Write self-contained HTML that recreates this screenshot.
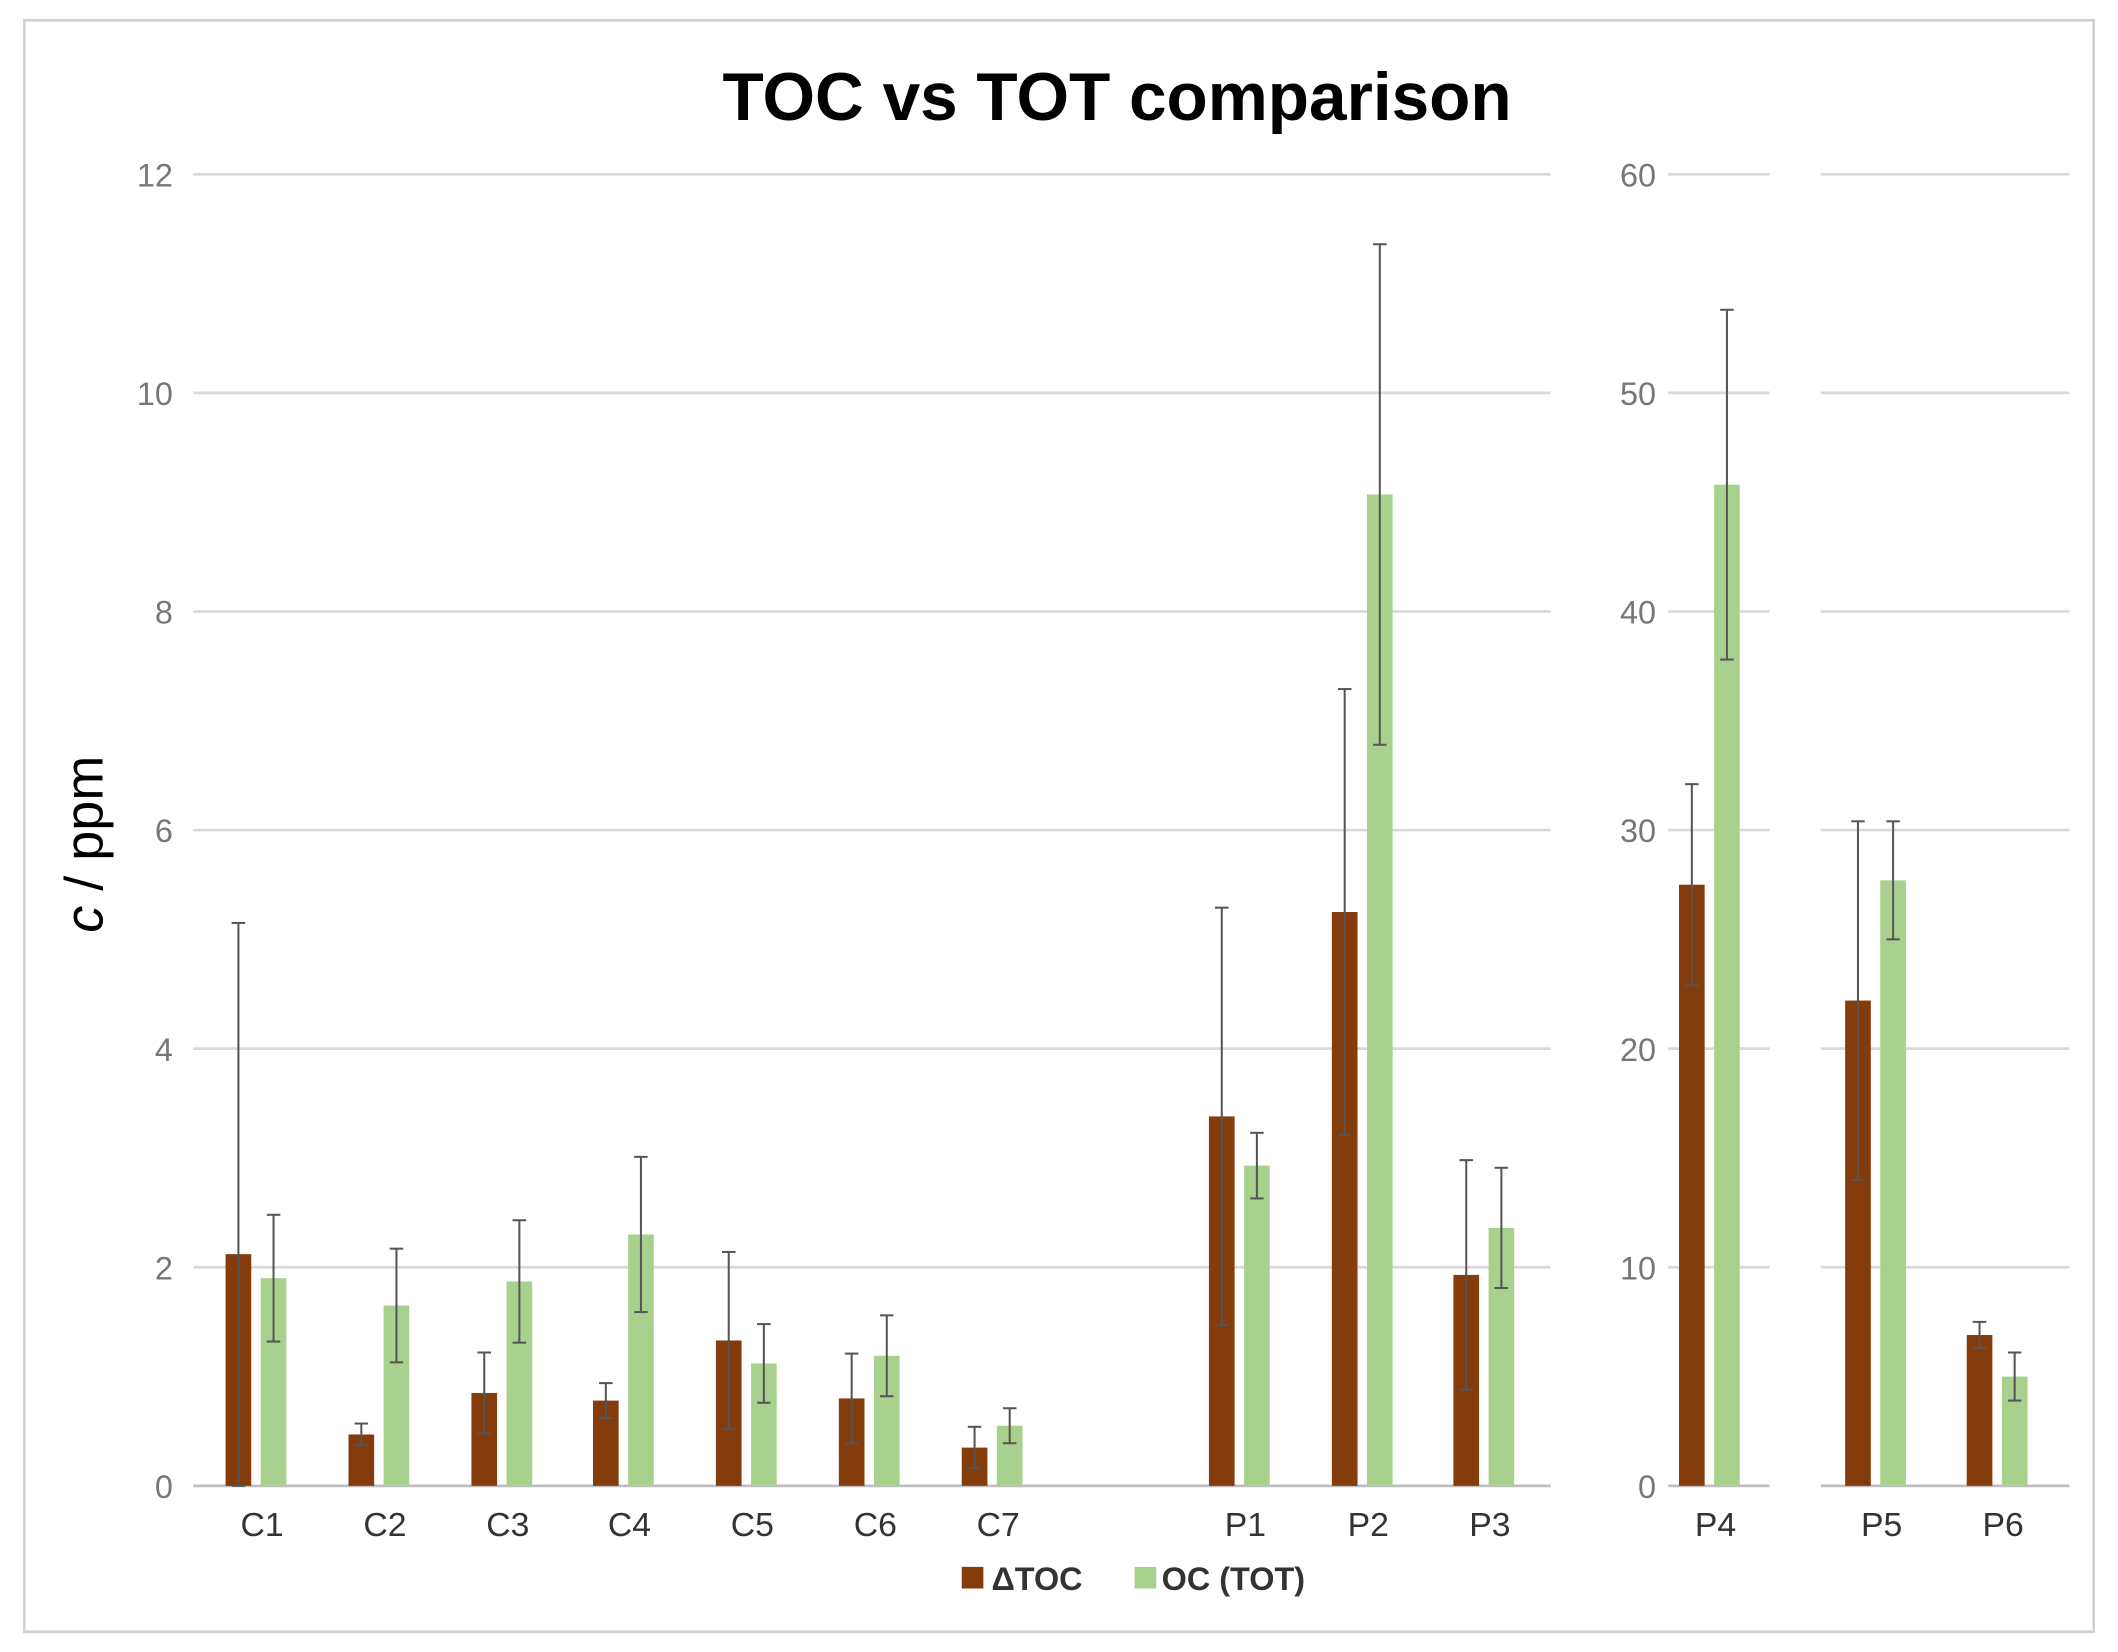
<!DOCTYPE html>
<html><head><meta charset="utf-8">
<style>
html,body{margin:0;padding:0;background:#fff;}
svg{display:block;font-family:"Liberation Sans",sans-serif;}
</style></head>
<body>
<svg id="chart" width="2118" height="1652" viewBox="0 0 1568 1223" xmlns="http://www.w3.org/2000/svg">
<rect x="18" y="15" width="1532" height="1193" fill="#fff" stroke="#d0d0d0" stroke-width="2"/>
<text x="827" y="89" text-anchor="middle" font-size="50" font-weight="bold" fill="#000">TOC vs TOT comparison</text>
<text transform="translate(76,625) rotate(-90)" text-anchor="middle" font-size="40" fill="#000"><tspan font-style="italic">c</tspan> / ppm</text>
<g id="grid"></g>
<g id="bars"></g>
<g id="labels"></g>
<g>
<rect x="712" y="1160" width="16" height="16" fill="#843C0C"/>
<text x="734" y="1177" font-size="24" font-weight="bold" fill="#333">ΔTOC</text>
<rect x="840" y="1160" width="16" height="16" fill="#A9D18E"/>
<text x="860" y="1177" font-size="24" font-weight="bold" fill="#333">OC (TOT)</text>
</g>
</svg>
<script>
const categories = ["C1","C2","C3","C4","C5","C6","C7","P1","P2","P3","P4","P5","P6"];
const dtocValues = [2.12,0.47,0.85,0.78,1.33,0.80,0.35,3.38,5.25,1.93,27.5,22.2,6.9];
const dtocErrors = [3.03,0.10,0.37,0.16,0.81,0.41,0.19,1.91,2.04,1.05,4.6,8.2,0.6];
const ocValues = [1.90,1.65,1.87,2.30,1.12,1.19,0.55,2.93,9.07,2.36,45.8,27.7,5.0];
const ocErrors = [0.58,0.52,0.56,0.71,0.36,0.37,0.16,0.30,2.29,0.55,8.0,2.7,1.1];
const leftTicks = [0,2,4,6,8,10,12];
const rightTicks = [0,10,20,30,40,50,60];
const centers = [194,285,376,466,557,648,739,922,1013,1103,1270,1393,1483];
const NS="http://www.w3.org/2000/svg";
const y0=1100, yTop=129;
function yLeft(v){return y0-(v/12)*(y0-yTop);}
function yRight(v){return y0-(v/60)*(y0-yTop);}
function mk(tag,attrs,parent){const e=document.createElementNS(NS,tag);for(const k in attrs)e.setAttribute(k,attrs[k]);parent.appendChild(e);return e;}
const grid=document.getElementById('grid'), bars=document.getElementById('bars'), labels=document.getElementById('labels');
const segs=[[143,1148],[1235,1310],[1348,1532]];
leftTicks.forEach(t=>{
  const g=mk('line',{x1:143,x2:1148,y1:yLeft(t),y2:yLeft(t),stroke:t===0?'#bfbfbf':'#d9d9d9','stroke-width':2},grid);
  
  
  const tx=mk('text',{x:128,y:yLeft(t)+9,'text-anchor':'end','font-size':24,fill:'#777'},labels);
  tx.textContent=t;
  
  
});
rightTicks.forEach(t=>{
  [segs[1],segs[2]].forEach(s=>{
    const g=mk('line',{x1:s[0],x2:s[1],y1:yRight(t),y2:yRight(t),stroke:t===0?'#bfbfbf':'#d9d9d9','stroke-width':2},grid);
    
    
  });
  const tx=mk('text',{x:1226,y:yRight(t)+9,'text-anchor':'end','font-size':24,fill:'#777'},labels);
  tx.textContent=t;
  
  
});
function errBar(x,yv,e,yf){
  const top=yf(yv+e), bot=Math.min(y0,yf(Math.max(0,yv-e)));
  const l=mk('line',{x1:x,x2:x,y1:top,y2:bot,stroke:'#555','stroke-width':1.5},bars);
  
  
  [top,bot].forEach(y=>{const c=mk('line',{x1:x-5,x2:x+5,y1:y,y2:y,stroke:'#555','stroke-width':1.5},bars);
    
    });
}
categories.forEach((c,i)=>{
  const yf=i>=10?yRight:yLeft;
  const cx=centers[i], w=19;
  const b1=mk('rect',{x:cx-27,y:yf(dtocValues[i]),width:w,height:y0-yf(dtocValues[i]),fill:'#843C0C'},bars);
  
  
  const b2=mk('rect',{x:cx-1,y:yf(ocValues[i]),width:w,height:y0-yf(ocValues[i]),fill:'#A9D18E'},bars);
  
  
  errBar(cx-27+w/2,dtocValues[i],dtocErrors[i],yf);
  errBar(cx-1+w/2,ocValues[i],ocErrors[i],yf);
  const tx=mk('text',{x:cx,y:1137,'text-anchor':'middle','font-size':25,fill:'#333'},labels);
  tx.textContent=c;
  
  
});
</script>
</body></html>
